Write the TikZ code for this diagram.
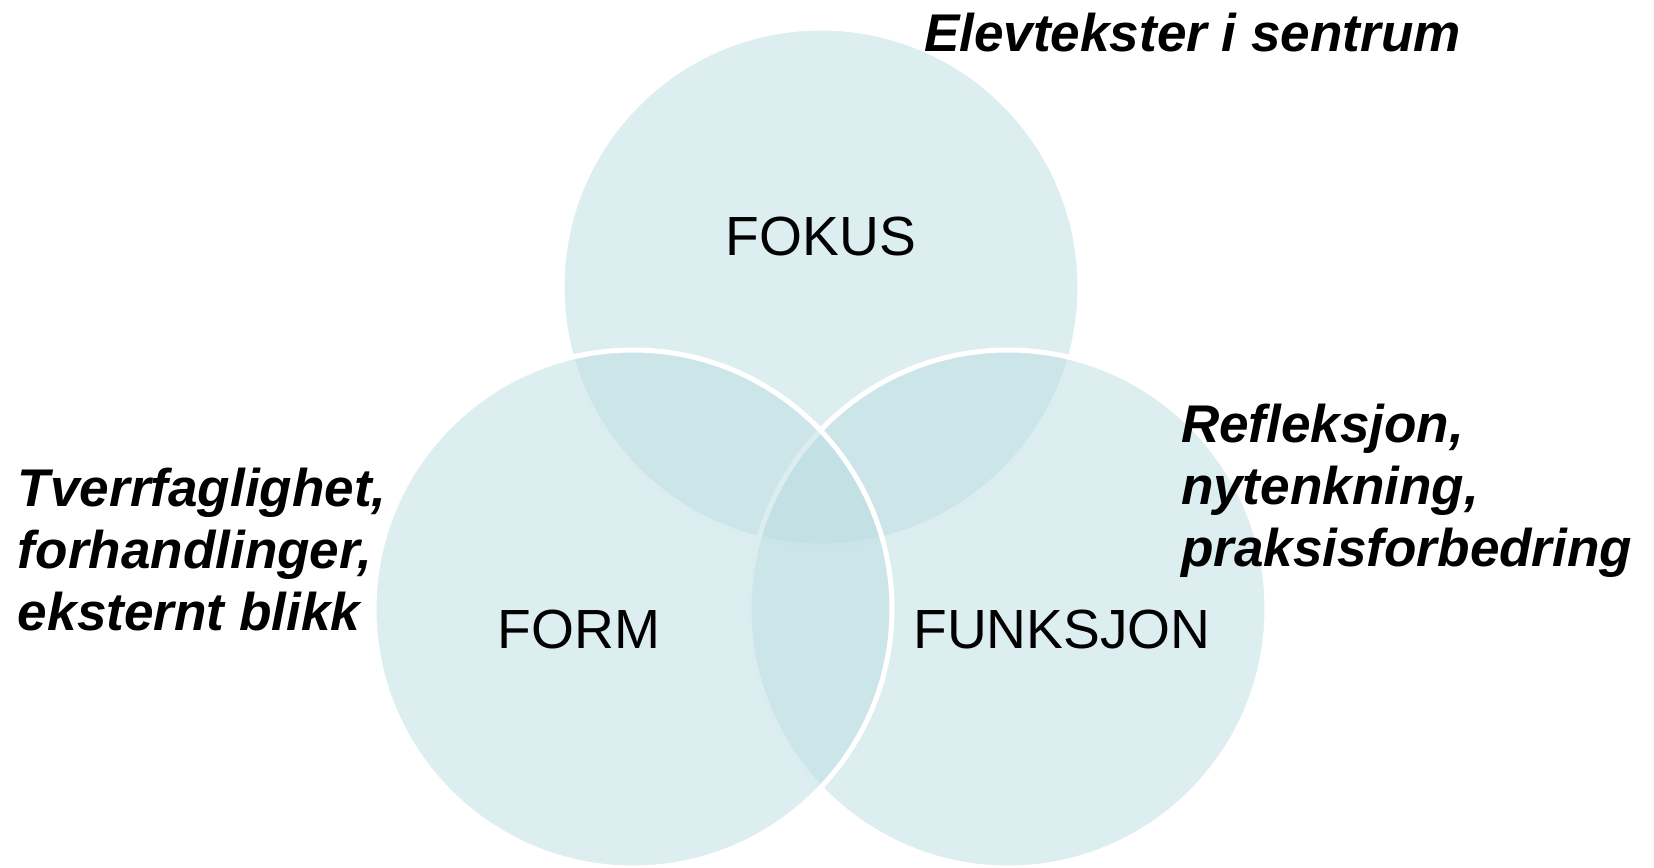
\documentclass[tikz,border=0pt]{standalone}
\usepackage{fontspec}
\setmainfont{Liberation Sans}
\begin{document}
\begin{tikzpicture}[x=0.1mm,y=-0.1mm]
\definecolor{vennfill}{RGB}{187,221,225}
\tikzstyle{every node}=[inner sep=0pt, outer sep=0pt]
\tikzstyle{venn}=[circle, minimum size=51.8mm, fill=vennfill, fill opacity=.5, draw=white, line width=.5mm]
\tikzstyle{caps}=[anchor=base, font=\fontsize{15.7}{18}\selectfont]
\tikzstyle{note}=[anchor=base west, align=left, font=\fontsize{15.1}{17.6}\selectfont\bfseries\itshape]
\useasboundingbox (0,0) rectangle (1654,867);
% circles, top first
\draw (821,287) node (fokus) [venn] {};
\draw (1008,609) node (funksjon) [venn] {};
\draw (633,609) node (form) [venn] {};
% labels
\draw (821,255) node (fokustxt) [caps] {FOKUS};
\draw (579,648) node (formtxt) [caps] {FORM};
\draw (1062,648) node (funksjontxt) [caps] {FUNKSJON};
\draw (924,51) node (topnote) [note] {Elevtekster i sentrum};
\draw (18,630) node (leftnote) [note] {Tverrfaglighet,\\forhandlinger,\\eksternt blikk};
\draw (1181,566) node (rightnote) [note] {Refleksjon,\\nytenkning,\\praksisforbedring};
\end{tikzpicture}
\end{document}
